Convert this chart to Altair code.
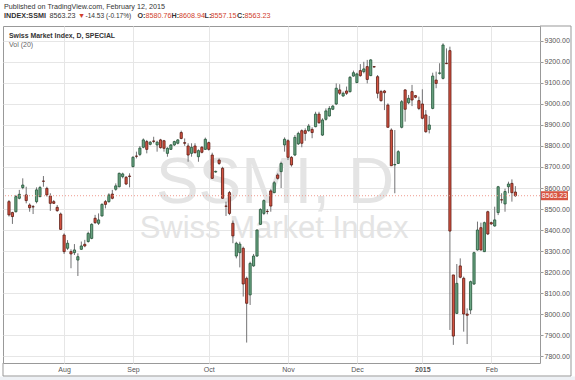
import altair as alt
import pandas as pd

# ---- data ----
opens = [8535, 8483, 8487, 8551, 8602, 8567, 8519, 8511, 8535, 8559,
         8633, 8598, 8562, 8535, 8508, 8476, 8376, 8313, 8297, 8292,
         8257, 8308, 8332, 8345, 8360, 8456, 8432, 8467, 8535, 8535,
         8571, 8594, 8606, 8654, 8651, 8657, 8702, 8752, 8760, 8794,
         8821, 8808, 8824, 8805, 8829, 8825, 8765, 8784, 8805, 8813,
         8864, 8816, 8800, 8765, 8800, 8749, 8794, 8784, 8816, 8757,
         8676, 8733, 8694, 8514, 8578, 8432, 8276, 8292, 8313, 8170,
         8091, 8229, 8276, 8427, 8479, 8489, 8586, 8578, 8662, 8678,
         8805, 8825, 8746, 8757, 8810, 8873, 8873, 8873, 8879, 8892,
         8952, 8852, 8927, 8943, 8975, 9000, 9067, 9038, 9062, 9059,
         9133, 9102, 9159, 9154, 9178, 9135, 9178, 9130, 9059, 9062,
         8995, 8876, 8710, 8717, 8889, 9067, 9006, 9059, 9040, 9016,
         9000, 8948, 8879, 8979, 9114, 9146, 9122, 9194, 9254, 8186,
         8003, 8229, 8170, 8000, 8019, 8143, 8305, 8411, 8297, 8487,
         8435, 8419, 8483, 8544, 8524, 8606, 8622, 8580.76]
highs = [8543, 8487, 8567, 8591, 8646, 8606, 8527, 8519, 8603, 8610,
         8657, 8606, 8575, 8543, 8519, 8483, 8384, 8352, 8308, 8333,
         8289, 8345, 8353, 8392, 8432, 8472, 8479, 8527, 8543, 8575,
         8591, 8622, 8673, 8673, 8657, 8670, 8752, 8773, 8800, 8836,
         8829, 8824, 8844, 8825, 8834, 8829, 8794, 8809, 8825, 8833,
         8873, 8836, 8813, 8813, 8813, 8784, 8800, 8840, 8821, 8768,
         8683, 8741, 8701, 8535, 8586, 8445, 8344, 8344, 8321, 8178,
         8249, 8286, 8403, 8503, 8546, 8500, 8594, 8633, 8670, 8725,
         8841, 8832, 8752, 8852, 8868, 8879, 8884, 8905, 8889, 8963,
         8963, 8932, 8979, 8990, 8995, 9098, 9094, 9059, 9083, 9133,
         9159, 9149, 9190, 9201, 9210, 9213, 9181, 9138, 9067, 9067,
         9003, 8884, 8876, 8780, 9019, 9070, 9043, 9091, 9043, 9035,
         9070, 8971, 8943, 9149, 9154, 9194, 9289, 9265, 9273, 8186,
         8238, 8265, 8178, 8027, 8159, 8297, 8440, 8435, 8440, 8492,
         8440, 8511, 8610, 8575, 8597, 8630, 8641, 8608.94]
lows = [8464, 8429, 8484, 8546, 8594, 8527, 8487, 8476, 8527, 8556,
        8606, 8559, 8491, 8524, 8487, 8400, 8286, 8305, 8218, 8281,
        8181, 8305, 8318, 8340, 8356, 8429, 8424, 8464, 8503, 8530,
        8546, 8587, 8603, 8646, 8614, 8603, 8698, 8741, 8752, 8789,
        8765, 8803, 8813, 8773, 8788, 8773, 8749, 8781, 8800, 8808,
        8832, 8801, 8725, 8749, 8765, 8725, 8765, 8781, 8778, 8643,
        8673, 8710, 8549, 8467, 8471, 8337, 8265, 8222, 8083, 7864,
        8043, 8225, 8273, 8424, 8471, 8475, 8487, 8575, 8640, 8600,
        8773, 8733, 8702, 8752, 8805, 8794, 8825, 8868, 8837, 8889,
        8905, 8848, 8921, 8940, 8971, 8995, 9043, 9035, 9043, 9054,
        9130, 9099, 9130, 9146, 9098, 9133, 9174, 9027, 9011, 8971,
        8889, 8706, 8575, 8714, 8884, 8916, 8999, 8990, 9027, 8971,
        8927, 8863, 8860, 8975, 9075, 9140, 9117, 9190, 7924, 7853,
        8000, 8170, 7916, 7857, 8000, 8138, 8302, 8302, 8295, 8376,
        8424, 8416, 8471, 8527, 8487, 8575, 8535, 8557.15]
closes = [8472, 8464, 8559, 8570, 8614, 8540, 8506, 8510, 8591, 8602,
          8632, 8567, 8527, 8527, 8492, 8403, 8297, 8337, 8286, 8305,
          8273, 8324, 8324, 8384, 8427, 8435, 8448, 8522, 8522, 8567,
          8551, 8610, 8670, 8667, 8619, 8655, 8746, 8751, 8790, 8829,
          8784, 8818, 8822, 8818, 8792, 8789, 8789, 8805, 8821, 8829,
          8836, 8813, 8757, 8794, 8768, 8778, 8770, 8832, 8784, 8646,
          8679, 8717, 8551, 8513, 8479, 8372, 8337, 8333, 8143, 8051,
          8241, 8276, 8400, 8498, 8540, 8488, 8514, 8625, 8646, 8717,
          8832, 8746, 8710, 8841, 8860, 8813, 8860, 8895, 8864, 8952,
          8911, 8924, 8967, 8979, 8990, 9075, 9051, 9051, 9051, 9127,
          9149, 9143, 9135, 9167, 9117, 9210, 9176, 9051, 9016, 9054,
          8889, 8706, 8712, 8773, 9011, 8975, 9027, 9019, 9032, 8979,
          8932, 8868, 8900, 9133, 9098, 9148, 9281, 9192, 8395, 7895,
          8146, 8175, 8000, 7994, 8154, 8292, 8400, 8305, 8435, 8381,
          8429, 8448, 8606, 8543, 8583, 8619, 8577.76, 8563.23]

month_ticks = [16, 36, 58, 81, 101, 120, 140]
month_labels = ["Aug", "Sep", "Oct", "Nov", "Dec", "2015", "Feb"]
price_ticks = list(range(7800, 9301, 100))
last_price = 8563.23

# ---- styling ----
FONT = "Liberation Sans"
UP, DOWN = "#6ba583", "#d75442"
UP_EDGE, DOWN_EDGE = "#225437", "#5b1a13"
WICK = "#737375"
GRID = "#e6e6e6"
W, H = 537, 337

df = pd.DataFrame({"i": list(range(len(opens))), "open": opens, "high": highs,
                   "low": lows, "close": closes})
one = pd.DataFrame({"p": [last_price]})

xs = alt.Scale(domain=[-0.285, 152.7], nice=False, zero=False)
ys = alt.Scale(domain=[7766.7, 9371.4], nice=False, zero=False)

label_expr = " : ".join(f"datum.value == {v} ? '{t}'" for v, t in zip(month_ticks, month_labels)) + " : ''"

x_axis = alt.Axis(values=month_ticks, labelExpr=label_expr, title=None, domain=False,
                  ticks=False, grid=True, gridColor=GRID, labelFontSize=7, labelColor="#555",
                  labelPadding=2, labelFont=FONT,
                  labelFontWeight={"condition": {"test": "datum.value == 120", "value": "bold"},
                                   "value": "normal"})
y_axis = alt.Axis(orient="right", values=price_ticks, format=".2f", title=None, domain=False,
                  grid=True, gridColor=GRID, tickSize=3, tickColor="#999", labelPadding=1,
                  labelFontSize=7, labelColor="#555", labelFont=FONT)

base = alt.Chart(df)

wicks = base.mark_rule(color=WICK, strokeWidth=1).encode(
    x=alt.X("i:Q", scale=xs, axis=x_axis),
    y=alt.Y("low:Q", scale=ys, axis=y_axis),
    y2="high:Q",
)

cond = "datum.close >= datum.open"
bodies = base.mark_bar(width=2.2, strokeWidth=0.8).encode(
    x=alt.X("i:Q", scale=xs, axis=x_axis),
    y=alt.Y("open:Q", scale=ys, axis=y_axis),
    y2="close:Q",
    fill=alt.condition(cond, alt.value(UP), alt.value(DOWN)),
    stroke=alt.condition(cond, alt.value(UP_EDGE), alt.value(DOWN_EDGE)),
)

oc = alt.Chart(one)

def txt(s, x, y, size=7.2, color="#333", weight="normal", align="left", baseline="middle"):
    return oc.mark_text(fontSize=size, font=FONT, color=color, fontWeight=weight,
                        align=align, baseline=baseline).encode(
        x=alt.value(x), y=alt.value(y), text=alt.value(s))

watermark = [
    txt("SSMI, D", 272, 177, size=64, color="#e4e4e4", align="center", baseline="alphabetic"),
    txt("Swiss Market Index", 271, 212, size=31, color="#e4e4e4", align="center", baseline="alphabetic"),
]

price_line = oc.mark_rule(color="#ef9a8e", strokeDash=[1, 2], strokeWidth=1).encode(
    y=alt.Y("p:Q", scale=ys, axis=y_axis))
price_box = oc.mark_rule(color=DOWN, strokeWidth=9, strokeCap="butt").encode(
    x=alt.value(538), x2=alt.value(565), y=alt.Y("p:Q", scale=ys, axis=y_axis))
price_txt = oc.mark_text(fontSize=7, font=FONT, color="white", align="center",
                         baseline="middle").encode(
    x=alt.value(551.5), y=alt.Y("p:Q", scale=ys, axis=y_axis), text=alt.value("8563.23"))

FR = "#999"
frame = [
    oc.mark_rule(color=FR).encode(x=alt.value(0), y=alt.value(337), y2=alt.value(350)),
    oc.mark_rule(color=FR).encode(x=alt.value(0), x2=alt.value(568), y=alt.value(350)),
    oc.mark_rule(color=FR).encode(x=alt.value(568), y=alt.value(0), y2=alt.value(350)),
    oc.mark_rule(color=FR).encode(x=alt.value(537), x2=alt.value(568), y=alt.value(0)),
]
bottom_bg = oc.mark_rect(color="#eef1f5").encode(
    x=alt.value(-3), x2=alt.value(572), y=alt.value(350.5), y2=alt.value(354))

RED = "#d0402b"
header = [
    txt("Published on TradingView.com, February 12, 2015", 1, -19.5),
    txt("INDEX:SSMI", 1, -10.5, weight="bold"),
    txt("8563.23", 46.5, -10.5),
    txt("\u25bc", 75, -10.5, color=RED),
    txt("-14.53 (-0.17%)", 82.5, -10.5, size=6.6),
    txt("O:", 134.5, -10.5, weight="bold"),
    txt("8580.76", 142.5, -10.5, color=RED),
    txt("H:", 168.5, -10.5, weight="bold"),
    txt("8608.94", 176, -10.5, color=RED),
    txt("L:", 201.5, -10.5, weight="bold"),
    txt("8557.15", 207.5, -10.5, color=RED),
    txt("C:", 234, -10.5, weight="bold"),
    txt("8563.23", 241.5, -10.5, color=RED),
    txt("Swiss Market Index, D, SPECIAL", 6, 9.5, size=6.9, weight="bold"),
    txt("Vol (20)", 6, 19, size=7, color="#666"),
]

chart = alt.layer(
    *watermark, wicks, bodies, price_line, price_box, price_txt, bottom_bg, *frame, *header
).properties(
    width=W, height=H,
    autosize=alt.AutoSizeParams(type="none"),
    padding={"left": 3, "top": 26, "right": 35, "bottom": 17},
    background="white",
).configure_view(stroke=FR, strokeWidth=1)

chart.save("out.html", embed_options={"renderer": "svg", "actions": False})
